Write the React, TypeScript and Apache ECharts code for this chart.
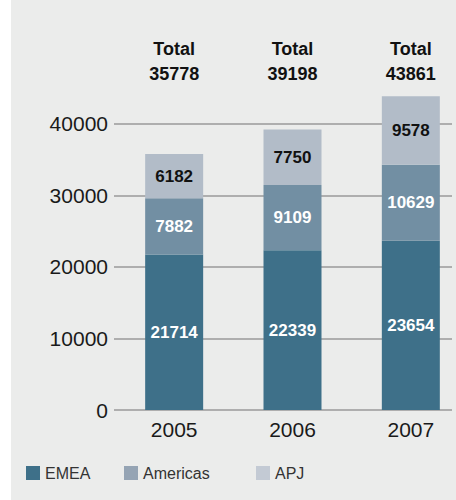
import React, { useEffect, useRef } from 'react';
import * as echarts from 'echarts';

const years = ['2005', '2006', '2007'];
const emea = [21714, 22339, 23654];
const americas = [7882, 9109, 10629];
const apj = [6182, 7750, 9578];
const seriesNames = ['EMEA', 'Americas', 'APJ'];
const totalLabel = 'Total';

const barColors = ['#3e7089', '#728fa3', '#b2bcc8'];
const legendColors = ['#3e7089', '#95a4b4', '#c3cad4'];
const labelColors = ['#ffffff', '#ffffff', '#111111'];

export default function App() {
  const ref = useRef<HTMLDivElement>(null);
  useEffect(() => {
    if (!ref.current) return;
    const chart = echarts.init(ref.current, undefined, { renderer: 'svg' });
    const totals = years.map((_, i) => emea[i] + americas[i] + apj[i]);
    const values = [emea, americas, apj];
    const font = '"Liberation Sans", Arial, sans-serif';
    const legendLefts = [26, 124, 256];
    chart.setOption({
      animation: false,
      backgroundColor: '#ffffff',
      textStyle: { fontFamily: font },
      graphic: [
        { type: 'rect', z: -100, shape: { x: 11, y: 0, width: 445, height: 500 }, style: { fill: '#ebeceb' } },
      ],
      grid: [
        { left: 115, width: 355, top: 88, bottom: 90, outerBoundsMode: 'none', containLabel: false },
        { left: 114, right: 4, top: 88, bottom: 90, outerBoundsMode: 'none', containLabel: false },
      ],
      xAxis: [
        {
          gridIndex: 0, type: 'category', data: years, position: 'bottom',
          axisLine: { show: false }, axisTick: { show: false },
          axisLabel: { fontSize: 21, color: '#1a1a1a', margin: 9 },
        },
        { gridIndex: 1, type: 'category', data: years, show: false },
        {
          gridIndex: 0, type: 'category', data: years, position: 'top',
          axisLine: { show: false }, axisTick: { show: false },
          axisLabel: {
            margin: 2, fontSize: 18, fontWeight: 'bold', color: '#111', lineHeight: 25,
            formatter: (_v: string, i: number) => `${totalLabel}\n${totals[i]}`,
          },
        },
      ],
      yAxis: [
        { gridIndex: 0, type: 'value', min: 0, max: 45000, interval: 10000, show: false },
        {
          gridIndex: 1, type: 'value', min: 0, max: 45000, interval: 10000,
          axisLine: { show: false }, axisTick: { show: false },
          axisLabel: {
            fontSize: 21, color: '#1a1a1a', margin: 6, showMaxLabel: false,
            formatter: (v: number) => String(v),
          },
          splitLine: {
            show: true, showMinLine: true, showMaxLine: false,
            lineStyle: { color: ['#9a9a9a', '#9a9a9a', '#9a9a9a', '#9a9a9a', '#9a9a9a', 'rgba(0,0,0,0)'], width: 1.5 },
          },
        },
      ],
      legend: seriesNames.map((n, i) => ({
        left: legendLefts[i], top: 465, padding: 0,
        icon: 'rect', itemWidth: 14, itemHeight: 14,
        selectedMode: false,
        textStyle: { fontSize: 16, color: '#333', fontFamily: font },
        data: [{ name: n, itemStyle: { color: legendColors[i] } }],
      })),
      series: seriesNames.map((n, i) => ({
        name: n, type: 'bar', stack: 'total', xAxisIndex: 0, yAxisIndex: 0,
        barWidth: 58, data: values[i],
        itemStyle: { color: barColors[i] },
        label: {
          show: true, position: 'inside', fontSize: 17, fontWeight: 'bold',
          color: labelColors[i], fontFamily: font,
        },
      })),
    });
    return () => chart.dispose();
  }, []);
  return <div ref={ref} style={{ position: 'absolute', left: 0, top: 0, width: 456, height: 500 }} />;
}
